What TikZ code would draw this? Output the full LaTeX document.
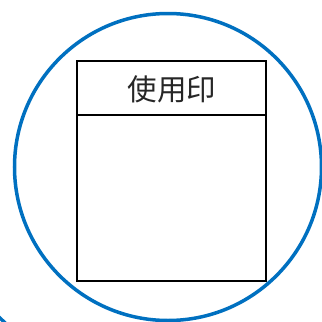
\documentclass[tikz,border=0pt]{standalone}
\usepackage{fontspec}
\newfontfamily\cjk{Noto Sans CJK SC}
\definecolor{ringblue}{HTML}{0070C0}
\tikzset{
  ring/.style={draw=ringblue, line width=3.5pt, circle, minimum size=307pt, inner sep=0pt},
  boxframe/.style={draw=black, line width=2pt, rectangle, minimum width=189pt, minimum height=220pt, inner sep=0pt},
  divider/.style={draw=black, line width=2pt},
  title/.style={font=\cjk\fontsize{29.5}{31}\selectfont, text=black!85, inner sep=0pt}
}
\begin{document}
\begin{tikzpicture}[x=1pt,y=-1pt]
\useasboundingbox (0,0) rectangle (322,322);
\node[ring] (ring) at (168,167) {};
\node[ring] (ring2) at (-104,431) {};
\node[boxframe] (box) at (171.5,171) {};
\coordinate (divL) at (77,115);
\coordinate (divR) at (266,115);
\draw[divider] (divL) -- (divR);
\node[title] (label) at (172,89) {使用印};
\end{tikzpicture}
\end{document}
